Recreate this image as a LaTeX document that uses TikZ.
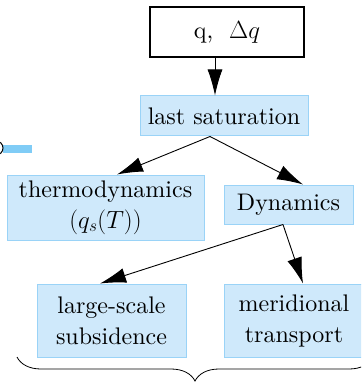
\documentclass[tikz,border=0pt]{standalone}
\usepackage{tikz}
\usetikzlibrary{arrows.meta,decorations.pathreplacing}
\definecolor{boxfill}{HTML}{CFE9FB}
\definecolor{boxline}{HTML}{9AD3F7}
\definecolor{stubblue}{HTML}{80CCF6}
\DeclareFontFamily{TU}{lmten}{}
\DeclareFontShape{TU}{lmten}{m}{n}{<->"[lmroman10-regular]:mapping=tex-text"}{}
\newcommand{\boxfont}{\fontfamily{lmten}\fontsize{24}{31}\selectfont}

\begin{document}
\begin{tikzpicture}[x=1pt, y=-1pt, font=\boxfont,
    bluebox/.style={draw=boxline, line width=1pt, fill=boxfill,
                    inner sep=0pt, align=center},
    flow/.style={-{Latex[length=26pt,width=15pt]}, line width=0.9pt}]
  \useasboundingbox (0,0) rectangle (361,382);
  \clip (0,0) rectangle (361,382);

  % cut-off piece at the left edge
  \draw[stubblue, line width=8pt] (3,149) -- (32,149);
  \draw[line width=1pt] (-4,148) circle (7);

  % boxes
  \node[draw, line width=1.3pt, fill=white, inner sep=0pt,
        minimum width=154pt, minimum height=50pt] (qin) at (227,32)
        {q,~ $\Delta q$};
  \node[bluebox, minimum width=168pt, minimum height=40pt] (last)
        at (224,116) {last saturation};
  \node[bluebox, minimum width=197pt, minimum height=65pt] (thermo)
        at (105.5,207.5) {thermodynamics\\$(q_s(T))$};
  \node[bluebox, minimum width=129pt, minimum height=39pt] (dyn)
        at (288.5,204.5) {Dynamics};
  \node[bluebox, minimum width=149pt, minimum height=73pt] (large)
        at (111.5,320.5) {large-scale\\subsidence};
  \node[bluebox, minimum width=140pt, minimum height=73pt] (merid)
        at (294,320.5) {meridional\\transport};

  % arrows
  \coordinate (split) at ([xshift=-14pt]last.south);
  \coordinate (fork) at ([xshift=-5.5pt]dyn.south);
  \draw[flow] ([xshift=-12pt]qin.south) -- ([xshift=-9pt]last.north);
  \draw[flow] (split) -- ([xshift=11.5pt]thermo.north);
  \draw[flow] (split) -- ([xshift=14.5pt]dyn.north);
  \draw[flow] (fork) -- ([xshift=-11.5pt]large.north);
  \draw[flow] (fork) -- ([xshift=9pt]merid.north);

  % brace under the bottom row
  \draw[decorate, decoration={brace, mirror, amplitude=24pt}, line width=0.8pt]
        (17,357) -- (373,357);
\end{tikzpicture}
\end{document}
